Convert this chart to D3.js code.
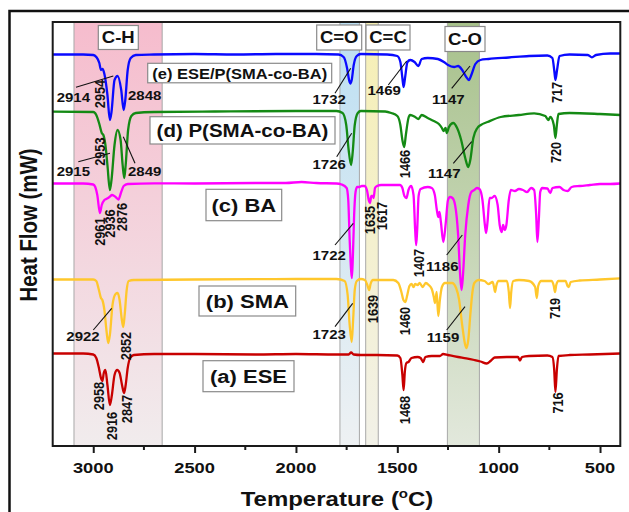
<!DOCTYPE html>
<html><head><meta charset="utf-8">
<script src="https://cdn.jsdelivr.net/npm/d3@7"></script>
<style>
body{margin:0;background:#fff}
svg{display:block}
text{font-family:"Liberation Sans",Arial,sans-serif;font-weight:bold;fill:#111}
</style>
</head><body>
<svg id="chart" width="629" height="512"></svg>
<script>
// ---------------- DATA ----------------
const seriesLabels = ["(e) ESE/P(SMA-co-BA)", "(d) P(SMA-co-BA)", "(c) BA", "(b) SMA", "(a) ESE"];

// [wavenumber, stacked heat-flow value (arbitrary units)]
const spectrumE = [[3200,391.5],[3050,391.5],[3000,391],[2985,389],[2970,383],[2962,376],[2954,377],[2945,372],[2930,351],[2918,326],[2910,334],[2895,366],[2880,370],[2862,356],[2850,336],[2842,346],[2830,376],[2815,388],[2790,391],[2700,391.5],[2500,392],[2300,391.5],[2100,392],[1900,392],[1790,391.5],[1765,389],[1748,378],[1738,366],[1732,362.5],[1725,366],[1715,381],[1700,390],[1680,392],[1550,391.5],[1500,390],[1485,384],[1475,368],[1469,359],[1462,368],[1450,384],[1436,386],[1415,384],[1396,380],[1380,387],[1350,388],[1300,387],[1270,384],[1250,381],[1220,379],[1200,380],[1180,376],[1160,369],[1147,366],[1135,371],[1115,382],[1090,386],[1050,387],[950,388.5],[850,390],[760,390.5],[735,388],[725,374],[720,366],[712,376],[700,390],[650,391.5],[560,391],[540,388.7],[520,391],[450,392.5],[400,392.5]];

const spectrumD = [[3200,334.3],[3000,334],[2985,331],[2970,322],[2958,313],[2950,311],[2940,301],[2930,281],[2918,256],[2910,266],[2895,301],[2880,316],[2865,306],[2855,281],[2847,268],[2840,281],[2828,316],[2812,330],[2790,333],[2700,334],[2400,334.5],[2000,335],[1800,335],[1770,333],[1752,321],[1740,296],[1728,281],[1720,294],[1710,321],[1695,333],[1680,335],[1560,334.5],[1530,333],[1500,330],[1485,321],[1475,306],[1466,299],[1458,311],[1445,328],[1437,331],[1412,329],[1396,327],[1380,331],[1350,328],[1320,325],[1295,322],[1280,318],[1272,315],[1262,318],[1256,313],[1245,319],[1224,323],[1205,318],[1185,306],[1165,288],[1150,279],[1140,286],[1125,308],[1105,318],[1088,321],[1055,324],[990,329],[900,331],[825,332.7],[770,330],[755,326],[745,329],[728,321],[720,308],[713,321],[705,332],[650,333],[500,332],[400,331]];

const spectrumC = [[3200,262.5],[3050,262.5],[3000,261.5],[2990,259],[2980,251],[2967,233],[2958,241],[2945,246],[2936,247],[2920,249],[2907,251],[2890,249],[2876,246.5],[2862,254],[2850,260],[2830,262],[2700,262.7],[2500,262.5],[2200,263],[2050,263],[1972,264],[1900,263],[1800,262.5],[1775,261.5],[1750,258],[1742,246],[1735,206],[1728,176],[1724,168],[1719,191],[1713,231],[1706,254],[1698,259],[1688,259],[1675,260],[1662,260],[1650,256],[1640,245],[1635,243],[1628,250],[1622,250],[1617,248],[1610,258],[1600,260],[1580,261],[1487,261],[1475,258],[1465,250],[1455,248],[1445,256],[1432,260],[1420,251],[1412,216],[1407,201],[1402,216],[1395,250],[1385,257],[1350,259],[1330,258],[1315,251],[1305,236],[1298,229],[1292,234],[1285,224],[1273,204],[1262,221],[1250,246],[1240,249],[1228,248],[1215,241],[1200,211],[1190,171],[1183,156],[1176,171],[1165,211],[1150,241],[1135,254],[1120,256],[1108,258],[1095,257],[1080,246],[1068,221],[1062,213],[1055,224],[1045,248],[1035,248],[1020,250],[1005,241],[995,221],[985,214],[978,221],[970,216],[962,221],[950,246],[940,256],[920,255],[900,257],[880,256],[860,254],[840,258],[825,256],[815,231],[809,204],[802,226],[795,254],[785,258],[760,257.5],[745,253],[735,258],[700,259],[680,256],[660,255],[640,259],[600,260],[550,261],[500,262],[450,262],[400,262.5]];

const spectrumB = [[3200,166.5],[3000,166.5],[2985,165],[2972,156],[2962,148],[2955,146],[2945,136],[2935,116],[2926,103],[2918,111],[2905,141],[2890,152],[2880,153],[2870,146],[2860,128],[2852,119],[2845,131],[2835,156],[2825,165],[2800,166],[2500,166.5],[2000,167],[1800,167],[1760,165],[1745,151],[1735,121],[1725,104],[1718,126],[1710,156],[1700,165],[1680,167],[1660,166],[1648,161],[1639,156],[1632,162],[1620,166],[1520,166],[1495,163],[1480,154],[1470,146],[1460,144],[1452,150],[1440,160],[1430,162],[1420,159],[1412,162],[1400,161],[1390,163],[1375,159],[1360,163],[1345,161],[1330,157],[1320,149],[1314,143],[1306,154],[1298,130],[1290,146],[1280,159],[1265,163],[1230,163],[1210,158],[1195,146],[1180,121],[1165,101],[1159,98],[1150,106],[1140,131],[1130,153],[1120,163],[1100,166],[1070,165],[1050,162],[1030,164],[1022,158],[1018,154],[1012,160],[1000,165],[960,165],[950,154],[944,138],[938,154],[928,165],[900,166],[850,165],[820,159],[812,148],[805,160],[790,165],[740,165],[728,160],[722,154],[716,161],[705,165],[670,165],[660,160],[654,159],[645,164],[600,165.5],[500,166.5],[400,167.7]];

const spectrumA = [[3200,92.5],[3050,92.5],[3000,91.5],[2985,88],[2972,78],[2962,68],[2955,65],[2948,73],[2940,76],[2930,61],[2918,41],[2908,51],[2895,71],[2882,76],[2870,73],[2858,61],[2848,53],[2840,61],[2830,78],[2818,88],[2800,91],[2700,92],[2500,92],[2200,91.5],[2000,92],[1800,91.5],[1740,91.5],[1728,93.5],[1715,91.5],[1680,91],[1600,91],[1500,90.5],[1485,88],[1475,71],[1469,56],[1463,74],[1455,83],[1445,84],[1430,88],[1400,89],[1385,88],[1372,84],[1362,89],[1330,90],[1290,90],[1274,92],[1250,91],[1200,89],[1160,87.7],[1120,86],[1090,84.5],[1059,82.5],[1040,85],[1020,88.5],[960,89],[905,89],[895,85.5],[885,89],[850,90],[760,90.5],[735,89],[726,76],[720,54],[713,76],[705,90],[650,91],[550,91.5],[400,92.5]];

const bandNames = ["C-H", "C=O", "C=C", "C-O"];
const bandFrom = [3095, 1783, 1656, 1253];
const bandTo = [2660, 1687, 1594, 1095];

const xTicks = [3000, 2500, 2000, 1500, 1000, 500];
const xMinorTicks = [2750, 2250, 1750, 1250, 750];

// ---------------- STYLE / LAYOUT ----------------
const seriesData = [spectrumE, spectrumD, spectrumC, spectrumB, spectrumA];
const seriesColors = ["#0a0aff", "#148a14", "#ff00ff", "#ffc72c", "#c80000"];
const bandTop = ["#f6bccd", "#bcdff2", "#f6efb4", "#a7c18b"];
const bandBottom = ["#f1eced", "#eef1f3", "#f2f1e8", "#e2e8dc"];
const bandBoxes = [[98.3,25.5,40,24],[316.7,25,45,25],[366,25,44,25],[445,26.5,40,25]];
const labelBoxes = [[147.7,63.3,184,19.5,16.5],[150,116.7,185,27.3,20.5],[206,189.3,75.7,31.4,22],[199,286,96.7,30,22],[203,360.7,91,31,22]];
const SQ = 0.85; // vertical squash of the original figure

const peakLabels = [
  ["2914",73.3,97.3,0],["2954",100,94,1],["2848",144.7,95.7,0],["1732",329.2,99.3,0],["1469",384.2,90.7,0],["1147",448.3,99,0],["717",556.7,92.5,1],
  ["2915",73.3,171.7,0],["2953",99.3,151.7,1],["2849",144.7,171.7,0],["1726",329.2,164,0],["1466",405,164,1],["1147",444.2,173.3,0],["720",556,152.5,1],
  ["2961",99.3,231.7,1],["2936",110,223.5,1],["2876",121.7,217,1],["1722",329.2,255,0],["1635",370,220,1],["1617",381.7,216,1],["1407",418.3,263,1],["1186",442.2,266,0],
  ["2922",83,336.7,0],["2852",126,346,1],["1723",329.2,334.3,0],["1639",372.7,309,1],["1460",405,321,1],["1159",443,337.7,0],["719",555,308.5,1],
  ["2958",99,396,1],["2916",112,426,1],["2847",126.5,409,1],["1468",405,410,1],["716",557.5,403,1]
];
const leaders = [
  [76,87.3,113.3,76],[335,93.3,350.7,68.3],[388.3,85,406.7,61],[451.7,88.3,470,66],
  [78.3,161.7,110,153.3],[123.3,136.7,135,163.3],[336.7,156.7,351.7,133.3],[453.3,163.3,471.7,141.7],
  [335,245,353.3,223.3],[446.7,255,462.3,235],
  [93.3,330,111.7,308.3],[335,326.7,352.7,303.3],[446.7,330,465,306.7]
];

// ---------------- DRAW ----------------
const svg = d3.select("#chart");
const plot = {left:52.7, top:22, right:620.3, bottom:446};
const x = d3.scaleLinear().domain([3200, 400]).range([plot.left, plot.right]);
const y = d3.scaleLinear().domain([0, 424]).range([plot.bottom, plot.top]);

svg.append("rect").attr("width",629).attr("height",512).attr("fill","#fff");
// outer frame
svg.append("rect").attr("x",9.5).attr("y",11).attr("width",660).attr("height",540)
  .attr("fill","none").attr("stroke","#111").attr("stroke-width",2.5);

const defs = svg.append("defs");
bandNames.forEach((n,i)=>{
  const g = defs.append("linearGradient").attr("id","bg"+i).attr("x1",0).attr("y1",0).attr("x2",0).attr("y2",1);
  g.append("stop").attr("offset","0%").attr("stop-color",bandTop[i]);
  g.append("stop").attr("offset","100%").attr("stop-color",bandBottom[i]);
});

// bands
bandNames.forEach((n,i)=>{
  const x0 = x(bandFrom[i]), x1 = x(bandTo[i]);
  svg.append("rect").attr("x",x0).attr("y",plot.top).attr("width",x1-x0).attr("height",plot.bottom-plot.top)
    .attr("fill","url(#bg"+i+")");
  [x0,x1].forEach(xx=>svg.append("line").attr("x1",xx).attr("x2",xx).attr("y1",plot.top).attr("y2",plot.bottom)
    .attr("stroke","#a8a8a8").attr("stroke-width",1));
});

// spectra
const line = d3.line().x(d=>x(d[0])).y(d=>y(d[1])).curve(d3.curveMonotoneX);
seriesData.forEach((s,i)=>{
  svg.append("path").datum(s).attr("d",line).attr("fill","none")
    .attr("stroke",seriesColors[i]).attr("stroke-width",2.3).attr("stroke-linejoin","round");
});

// leader lines
leaders.forEach(l=>svg.append("line").attr("x1",l[0]).attr("y1",l[1]).attr("x2",l[2]).attr("y2",l[3])
  .attr("stroke","#111").attr("stroke-width",1.1));

function sqText(t, cx, cy, size, rot){
  const tr = `translate(${cx},${cy}) scale(1,${SQ})` + (rot ? " rotate(-90)" : "");
  return svg.append("text").attr("transform",tr).attr("text-anchor","middle")
    .attr("dominant-baseline","central").attr("font-size",size).text(t);
}

// peak labels
peakLabels.forEach(p=>sqText(p[0], p[1], p[2], 15, p[3]));

// band label boxes
bandNames.forEach((n,i)=>{
  const b = bandBoxes[i];
  svg.append("rect").attr("x",b[0]).attr("y",b[1]).attr("width",b[2]).attr("height",b[3])
    .attr("fill","#fff").attr("stroke","#8a8a8a").attr("stroke-width",1.2);
  sqText(n, b[0]+b[2]/2, b[1]+b[3]/2+0.5, 18.5, 0);
});

// series label boxes
seriesLabels.forEach((n,i)=>{
  const b = labelBoxes[i];
  svg.append("rect").attr("x",b[0]).attr("y",b[1]).attr("width",b[2]).attr("height",b[3])
    .attr("fill","#fff").attr("stroke","#8a8a8a").attr("stroke-width",1.2);
  sqText(n, b[0]+b[2]/2, b[1]+b[3]/2+0.5, b[4], 0);
});

// plot frame
svg.append("rect").attr("x",plot.left).attr("y",plot.top).attr("width",plot.right-plot.left)
  .attr("height",plot.bottom-plot.top).attr("fill","none").attr("stroke","#1a1a1a").attr("stroke-width",2);

// x axis ticks
const axis = d3.axisBottom(x).tickValues(xTicks).tickSize(7).tickSizeOuter(0).tickFormat("");
const ag = svg.append("g").attr("transform",`translate(0,${plot.bottom})`).call(axis);
ag.select(".domain").remove();
ag.selectAll(".tick line").attr("stroke","#1a1a1a").attr("stroke-width",2);
xMinorTicks.forEach(t=>svg.append("line").attr("x1",x(t)).attr("x2",x(t)).attr("y1",plot.bottom).attr("y2",plot.bottom+4)
  .attr("stroke","#1a1a1a").attr("stroke-width",2));
xTicks.forEach(t=>sqText(String(t), x(t), 468.3, 18.3, 0));

// axis titles
const xt = svg.append("text").attr("transform",`translate(337,506) scale(1,${SQ})`).attr("text-anchor","middle")
  .attr("font-size",24);
xt.append("tspan").text("Temperature (");
xt.append("tspan").attr("font-size",15).attr("dy",-10).text("o");
xt.append("tspan").attr("dy",10).text("C)");

svg.append("text").attr("transform",`translate(36.5,225) scale(1,${SQ}) rotate(-90)`).attr("text-anchor","middle")
  .attr("font-size",24).text("Heat Flow (mW)");
</script>
</body></html>
